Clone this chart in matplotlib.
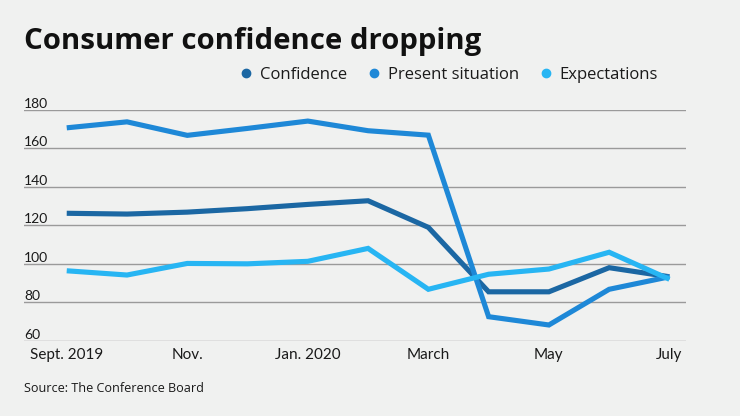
import matplotlib
matplotlib.use("Agg")
import matplotlib.pyplot as plt
from matplotlib.lines import Line2D
import matplotlib.transforms as mtransforms

months = ["Sept. 2019", "Oct.", "Nov.", "Dec.", "Jan. 2020", "Feb.", "March",
          "April", "May", "June", "July"]
confidence = [126.2, 125.8, 126.8, 128.6, 130.8, 132.7, 118.9, 85.5, 85.5, 98.0, 93.3]
present = [170.5, 173.6, 166.6, 170.2, 174.0, 169.0, 166.7, 72.6, 68.3, 86.8, 93.3]
expectations = [96.4, 94.2, 100.2, 100.0, 101.3, 108.0, 86.8, 94.6, 97.3, 106.0, 92.0]
series_names = ["Confidence", "Present situation", "Expectations"]
colors = ["#1b67a3", "#1e88d7", "#27b5f3"]
xtick_labels = ["Sept. 2019", "Nov.", "Jan. 2020", "March", "May", "July"]
yticks = [60, 80, 100, 120, 140, 160, 180]

BG = "#f0f1f0"
FONT = "Lato"
FONT2 = "Open Sans"

W, H = 740, 416
fig = plt.figure(figsize=(W / 100, H / 100), dpi=100, facecolor=BG)

left, right, top, bottom = 24, 685.7, 109.5, 341
ax = fig.add_axes([left / W, 1 - bottom / H, (right - left) / W, (bottom - top) / H])
ax.set_facecolor(BG)

x = list(range(len(months)))
for vals, c in zip([confidence, present, expectations], colors):
    ax.plot(x, vals, color=c, lw=3.7, solid_joinstyle="miter", solid_capstyle="butt", zorder=3)

ax.set_xlim(-0.709, 10.27)
ax.set_ylim(60, 180)
for s in ax.spines.values():
    s.set_visible(False)
ax.set_yticks(yticks)
ax.yaxis.grid(True, color="#9a9a9a", lw=1.0)
ax.set_axisbelow(True)
ax.tick_params(axis="y", length=0, labelleft=False)
trans = mtransforms.blended_transform_factory(ax.transAxes, ax.transData)
for v in yticks:
    ax.text(0, v, str(v), transform=trans, ha="left", va="bottom", fontsize=10,
            family=FONT, color="#1a1a1a")

xpos = [months.index(m) for m in xtick_labels]
ax.set_xticks(xpos)
ax.set_xticklabels(xtick_labels, fontsize=11, family=FONT, color="#1a1a1a")
ax.tick_params(axis="x", length=0, pad=5)

title = fig.text(24 / W, 1 - 48.5 / H, "Consumer confidence dropping", fontsize=22,
                 fontweight="bold", family=FONT2, color="#111111", ha="left", va="baseline")

handles = [Line2D([], [], marker="o", ls="none", color=c, markersize=6) for c in colors]
leg = fig.legend(handles, series_names, loc="center right",
                 bbox_to_anchor=(658 / W, 1 - 75 / H), ncol=3, frameon=False,
                 prop={"family": FONT2, "size": 12}, handletextpad=0.3,
                 columnspacing=1.15, handlelength=1.0, borderaxespad=0, borderpad=0)
for t in leg.get_texts():
    t.set_color("#1a1a1a")

src = fig.text(24 / W, 1 - 389 / H, "Source: The Conference Board", fontsize=9.5,
               family=FONT2, color="#1a1a1a", ha="left", va="center")

fig.canvas.draw()
r = fig.canvas.get_renderer()
tw = title.get_window_extent(r).width
title.set_fontsize(22 * 456 / tw)
sw = src.get_window_extent(r).width
src.set_fontsize(9.5 * 182 / sw)

fig.savefig("out.png", dpi=100, facecolor=BG)
